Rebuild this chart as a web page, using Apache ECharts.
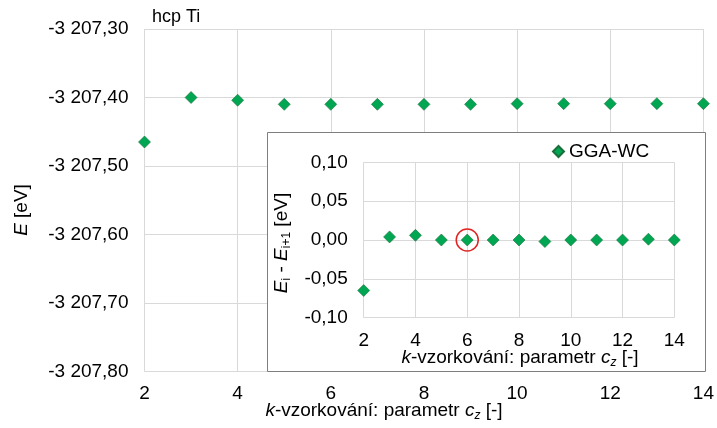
<!DOCTYPE html>
<html>
<head>
<meta charset="utf-8">
<script src="https://cdn.jsdelivr.net/npm/echarts@6/dist/echarts.min.js"></script>
<style>
  html, body { margin: 0; padding: 0; background: #fff; }
  #chart { width: 717px; height: 428px; }
</style>
</head>
<body>
<div id="chart"></div>
<script>
// k-sampling parameter c_z
const kValues = [2, 3, 4, 5, 6, 7, 8, 9, 10, 11, 12, 13, 14];
// total energy E [eV]
const energy = [-3207.465, -3207.400, -3207.404, -3207.410, -3207.410, -3207.410, -3207.410,
                -3207.410, -3207.409, -3207.409, -3207.409, -3207.409, -3207.409];
// E_i - E_(i+1) [eV]
const energyDiff = [-0.065, 0.004, 0.006, 0.000, 0.000, 0.000, 0.000,
                    -0.002, 0.000, 0.000, 0.000, 0.001, 0.000];
// chosen (circled) point
const chosenK = [6];

const FONT = "'Liberation Sans', Arial, sans-serif";
const FS = 19;
const green = '#00a651';

const mainData = kValues.map((k, i) => [k, energy[i]]);
const insetData = kValues.map((k, i) => [k, energyDiff[i]]);
const chosenData = chosenK.map(k => [k, energyDiff[kValues.indexOf(k)]]);

function fmtEnergy(v) {
  const parts = Math.abs(v).toFixed(2).split('.');
  const intPart = parts[0].replace(/\B(?=(\d{3})+(?!\d))/g, ' ');
  return (v < 0 ? '-' : '') + intPart + ',' + parts[1];
}
function fmtDiff(v) {
  let s = v.toFixed(2);
  if (s === '-0.00') s = '0.00';
  return s.replace('.', ',');
}

const myChart = echarts.init(document.getElementById('chart'));
const gridLine = { show: true, lineStyle: { color: '#d9d9d9', width: 1 } };
const label = { color: '#000', fontFamily: FONT, fontSize: FS };
// rich styles for axis titles (italic symbols, subscripts)
const titleRich = {
  i: { fontStyle: 'italic', fontSize: FS, fontFamily: FONT, lineHeight: 22 },
  n: { fontSize: FS, fontFamily: FONT, lineHeight: 22 },
  s: { fontStyle: 'italic', fontSize: 12, fontFamily: FONT, lineHeight: 12, verticalAlign: 'bottom' },
  r: { fontSize: 12, fontFamily: FONT, lineHeight: 12, verticalAlign: 'bottom' }
};
const markerStyle = { color: green, borderColor: '#1b6e3c', borderWidth: 0.6, opacity: 1 };

let option = {
  animation: false,
  grid: [
    { left: 144.5, top: 29, right: 9.5, bottom: 56.5 },
    { left: 363.7, top: 162.3, right: 42.7, bottom: 110.3 }
  ],
  legend: {
    data: [{ name: 'GGA-WC', icon: 'diamond' }],
    left: 547, top: 137, itemWidth: 11, itemHeight: 11, itemGap: 5,
    textStyle: { color: '#000', fontFamily: FONT, fontSize: FS, padding: [0, 0, 0, 0] },
    z: 10
  },
  xAxis: [
    {
      gridIndex: 0, type: 'value', min: 2, max: 14, interval: 2,
      axisLine: { show: false }, axisTick: { show: false },
      axisLabel: Object.assign({ margin: 13 }, label),
      splitLine: gridLine
    },
    {
      gridIndex: 1, type: 'value', min: 2, max: 14, interval: 2, z: 5,
      axisLine: { show: false }, axisTick: { show: false },
      axisLabel: Object.assign({ margin: 14 }, label),
      splitLine: gridLine
    }
  ],
  yAxis: [
    {
      gridIndex: 0, type: 'value', min: -3207.8, max: -3207.3, interval: 0.1,
      axisLine: { show: false }, axisTick: { show: false },
      axisLabel: Object.assign({ margin: 16, formatter: fmtEnergy }, label),
      splitLine: gridLine
    },
    {
      gridIndex: 1, type: 'value', min: -0.1, max: 0.1, interval: 0.05, z: 5,
      axisLine: { show: false }, axisTick: { show: false },
      axisLabel: Object.assign({ margin: 16, formatter: fmtDiff }, label),
      splitLine: gridLine
    }
  ],
  graphic: [
    {
      type: 'rect', z: 3, silent: true,
      shape: { x: 267.5, y: 132.5, width: 438, height: 239 },
      style: { fill: '#fff', stroke: '#7f7f7f', lineWidth: 1 }
    },
    {
      type: 'text', z: 10, left: 152, top: 8,
      style: { text: 'hcp Ti', fill: '#000', font: '18px ' + FONT }
    },
    {
      type: 'text', z: 10, x: 22, y: 210, rotation: Math.PI / 2,
      style: {
        text: '{i|E}{n| [eV]}', fill: '#000', align: 'center', verticalAlign: 'middle',
        rich: titleRich
      }
    },
    {
      type: 'text', z: 10, x: 384, y: 411,
      style: {
        text: '{i|k}{n|-vzorkování: parametr }{i|c}{s|z}{n| [-]}',
        fill: '#000', align: 'center', verticalAlign: 'middle',
        rich: titleRich
      }
    },
    {
      type: 'text', z: 10, x: 520, y: 358,
      style: {
        text: '{i|k}{n|-vzorkování: parametr }{i|c}{s|z}{n| [-]}',
        fill: '#000', align: 'center', verticalAlign: 'middle',
        rich: titleRich
      }
    },
    {
      type: 'text', z: 10, x: 282, y: 243, rotation: Math.PI / 2,
      style: {
        text: '{i|E}{r|i}{n| - }{i|E}{r|i+1}{n| [eV]}',
        fill: '#000', align: 'center', verticalAlign: 'middle',
        rich: titleRich
      }
    }
  ],
  series: [
    {
      name: 'GGA-WC', type: 'scatter', xAxisIndex: 0, yAxisIndex: 0,
      symbol: 'diamond', symbolSize: 12, data: mainData, z: 2,
      itemStyle: markerStyle
    },
    {
      name: 'GGA-WC', type: 'scatter', xAxisIndex: 1, yAxisIndex: 1,
      symbol: 'diamond', symbolSize: 12, data: insetData, z: 6,
      itemStyle: markerStyle
    },
    {
      name: 'chosen', type: 'scatter', xAxisIndex: 1, yAxisIndex: 1,
      symbol: 'circle', symbolSize: 22, data: chosenData, z: 7, silent: true,
      itemStyle: { color: 'rgba(0,0,0,0)', borderColor: '#e02424', borderWidth: 1.5, opacity: 1 }
    }
  ]
};
myChart.setOption(option);
window.addEventListener('resize', () => myChart.resize());
</script>
</body>
</html>
